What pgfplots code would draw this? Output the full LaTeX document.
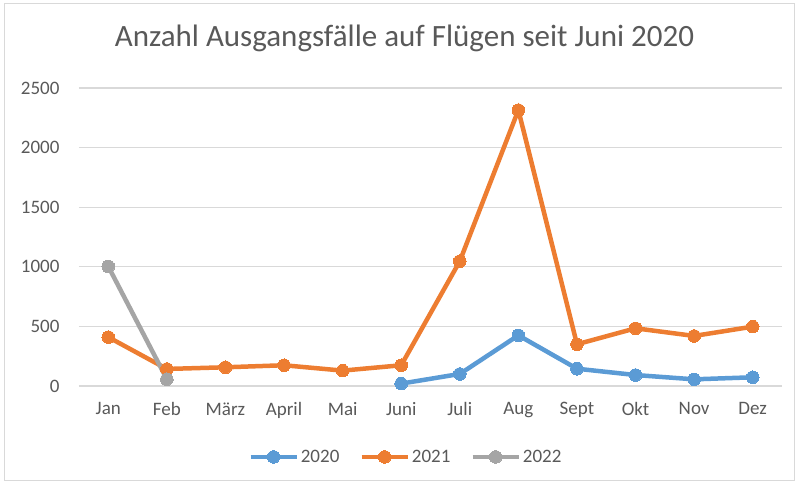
\documentclass[border=0pt]{standalone}
\usepackage{fontspec}
\setmainfont{Carlito}
\usepackage{pgfplots}
\pgfplotsset{compat=1.18}
\definecolor{cblue}{HTML}{5B9BD5}
\definecolor{corange}{HTML}{ED7D31}
\definecolor{cgray}{HTML}{A5A5A5}
\definecolor{ctext}{HTML}{595959}
\definecolor{cgrid}{HTML}{D9D9D9}
\begin{document}
\begin{tikzpicture}[x=1pt,y=1pt]
\useasboundingbox (-79,-98) rectangle (716,386);
\draw[cgrid, line width=1pt] (-74,-95) rectangle (715,382);
\begin{axis}[
  at={(0,0)}, anchor=south west,
  scale only axis, width=703pt, height=298pt,
  xmin=-0.5, xmax=11.5, ymin=0, ymax=2500,
  xtick={0,...,11},
  xticklabels={Jan,Feb,März,April,Mai,Juni,Juli,Aug,Sept,Okt,Nov,Dez},
  ytick={0,500,...,2500},
  ymajorgrids, major grid style={cgrid, line width=1.2pt},
  axis line style={draw=none},
  major tick length=0pt,
  tick label style={font=\fontsize{19}{22}\selectfont, text=ctext},
  /pgf/number format/assume math mode=true,
  /pgf/number format/1000 sep={},
  yticklabel style={xshift=-16pt},
  xticklabel style={yshift=-13pt},
  title={Anzahl Ausgangsfälle auf Flügen seit Juni 2020},
  title style={at={(axis description cs:0.463,1.1175)}, anchor=base, font=\fontsize{31}{36}\selectfont, text=ctext},
  legend style={at={(axis description cs:0.465,-0.238)}, anchor=center, draw=none, fill=none,
    legend columns=3, font=\fontsize{19}{22}\selectfont, text=ctext,
    /tikz/every even column/.append style={column sep=18pt}},
  legend image code/.code={\draw[#1, mark repeat=2, mark phase=2] plot coordinates {(0pt,0pt)(23pt,0pt)(46pt,0pt)};},
  every axis plot/.append style={line width=4.5pt, mark=*, mark size=6.3pt},
]
\addplot[cblue, mark options={fill=cblue, draw=cblue, line width=0pt}] coordinates {
 (5,20) (6,101) (7,425) (8,145) (9,92) (10,56) (11,73)};
\addplot[corange, mark options={fill=corange, draw=corange, line width=0pt}] coordinates {
 (0,410) (1,143) (2,157) (3,174) (4,129) (5,174) (6,1047) (7,2315) (8,350) (9,484) (10,420) (11,498)};
\addplot[cgray, mark options={fill=cgray, draw=cgray, line width=0pt}] coordinates {
 (0,1003) (1,57)};
\legend{2020,2021,2022}
\end{axis}
\end{tikzpicture}
\end{document}
